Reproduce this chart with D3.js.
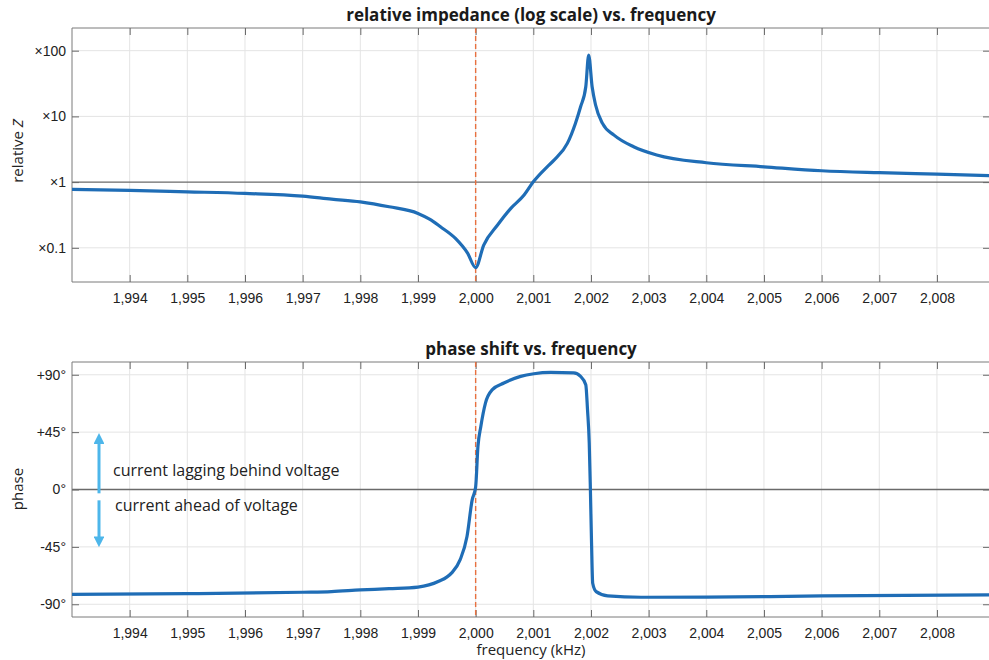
<!DOCTYPE html>
<html>
<head>
<meta charset="utf-8">
<script src="https://cdn.jsdelivr.net/npm/d3@7"></script>
<style>
  body{margin:0;background:#fff;}
  svg{display:block;font-family:"Open Sans",sans-serif;}
  .tick text{font-size:14px;fill:#222;}
</style>
</head>
<body>
<svg id="chart" width="989" height="660"></svg>
<script>
// ---- data ----
const xTicks = [1994,1995,1996,1997,1998,1999,2000,2001,2002,2003,2004,2005,2006,2007,2008];
const zTicks = [0.1,1,10,100];
const zTickLabels = ['×0.1','×1','×10','×100'];
const phTicks = [-90,-45,0,45,90];
const phTickLabels = ['-90°','-45°','0°','+45°','+90°'];

// relative impedance |Z| (log scale)
const zFreq = [1993.0,1994.0,1995.0,1996.0,1997.0,1997.5,1998.0,1998.5,1999.0,1999.2,1999.39,1999.65,1999.86,2000.0,
  2000.14,2000.38,2000.61,2000.84,2001.0,2001.24,2001.36,2001.59,2001.73,2001.82,2001.91,2001.96,
  2002.02,2002.08,2002.2,2002.4,2002.74,2003.14,2004.0,2005.0,2006.0,2007.0,2008.0,2008.95];
const zVal = [0.774,0.748,0.711,0.673,0.612,0.551,0.501,0.421,0.334,0.273,0.209,0.139,0.083,0.050,
  0.110,0.222,0.398,0.634,1.01,1.71,2.16,3.88,7.82,14.0,28.2,85.7,
  28.2,14.9,7.82,5.19,3.45,2.58,1.97,1.71,1.49,1.39,1.32,1.25];

// phase shift in degrees
const phFreq = [1993.0,1995.0,1997.0,1997.5,1998.0,1998.5,1999.0,1999.35,1999.58,1999.73,1999.85,1999.94,2000.0,
  2000.04,2000.09,2000.17,2000.29,2000.49,2000.78,2001.01,2001.3,2001.7,2001.82,2001.91,2001.94,2001.97,
  2001.99,2002.01,2002.03,2002.09,2002.29,2002.87,2004.0,2006.0,2008.95];
const phVal = [-82.2,-81.7,-80.6,-80.1,-78.8,-77.8,-76.5,-72.2,-65.6,-55.2,-36.9,-8.1,2,
  33.8,49.5,67.8,78.3,83.5,88.7,90.8,91.8,91.4,88.7,82.2,62.6,36.4,
  0,-42,-73.5,-80.1,-83.4,-84.5,-84.4,-83.5,-82.7];

const resonance = 2000;

// ---- layout ----
const svg = d3.select('#chart');
const L = 72, R = 990;
const x = d3.scaleLinear().domain([1993, 2008.92]).range([L, R]);
const yZ = d3.scaleLog().domain([Math.pow(10,-1.52), Math.pow(10,2.345)]).range([282, 28]);
const yP = d3.scaleLinear().domain([-100, 100]).range([617, 362]);

const BLUE = '#1f6db6', RED = '#e8703f', GRID = '#e4e4e4', FRAME = '#7a7a7a';

function panel(id, y, yt, ytl, fx, fy, title, ylab, zeroVal, labY){
  const [b, t] = y.range();
  const g = svg.append('g');
  g.append('clipPath').attr('id', id).append('rect').attr('x', L).attr('y', t).attr('width', R-L).attr('height', b-t);
  // grid
  g.append('g').selectAll('line').data(xTicks).join('line')
    .attr('x1', d=>x(d)).attr('x2', d=>x(d)).attr('y1', t).attr('y2', b).attr('stroke', GRID);
  g.append('g').selectAll('line').data(yt).join('line')
    .attr('x1', L).attr('x2', R).attr('y1', d=>y(d)).attr('y2', d=>y(d))
    .attr('stroke', d=>d===zeroVal ? '#6a6a6a' : GRID).attr('stroke-width', d=>d===zeroVal?1.4:1);
  // frame
  g.append('path').attr('d', `M${L},${b}V${t}H${R}`).attr('fill','none').attr('stroke', FRAME);
  g.append('line').attr('x1',L).attr('x2',R).attr('y1',b).attr('y2',b).attr('stroke',FRAME);
  // axes
  const xb = g.append('g').attr('transform', `translate(0,${b})`)
    .call(d3.axisBottom(x).tickValues(xTicks).tickFormat(d3.format(',')).tickSizeInner(-7).tickSizeOuter(0).tickPadding(11));
  const xt = g.append('g').attr('transform', `translate(0,${t})`)
    .call(d3.axisTop(x).tickValues(xTicks).tickFormat('').tickSizeInner(-7).tickSizeOuter(0));
  const yl = g.append('g').attr('transform', `translate(${L},0)`)
    .call(d3.axisLeft(y).tickValues(yt).tickFormat((d,i)=>ytl[i]).tickSizeInner(-7).tickSizeOuter(0).tickPadding(6));
  const yr = g.append('g').attr('transform', `translate(${R},0)`)
    .call(d3.axisRight(y).tickValues(yt).tickFormat('').tickSizeInner(-7).tickSizeOuter(0));
  [xb,xt,yl,yr].forEach(a=>{ a.select('.domain').remove(); a.selectAll('.tick line').attr('stroke', '#6a6a6a'); });
  // resonance marker
  g.append('line').attr('x1', x(resonance)).attr('x2', x(resonance)).attr('y1', t).attr('y2', b)
    .attr('stroke', RED).attr('stroke-width', 1.4).attr('stroke-dasharray', '5,3');
  // curve
  const pts = fx.map((f,i)=>[f, fy[i]]);
  g.append('path').datum(pts).attr('clip-path', `url(#${id})`)
    .attr('d', d3.line().x(d=>x(d[0])).y(d=>y(d[1])).curve(d3.curveMonotoneX))
    .attr('fill','none').attr('stroke', BLUE).attr('stroke-width', 3.2).attr('stroke-linejoin','round');
  // titles
  g.append('text').attr('x', (L+R)/2).attr('y', t-7).attr('text-anchor','middle')
    .style('font-size','17px').style('font-weight','bold').attr('fill','#1a1a1a').text(title);
  g.append('text').attr('transform', `translate(23,${labY}) rotate(-90)`).attr('text-anchor','middle')
    .style('font-size','15px').attr('fill','#222').html(ylab);
  return g;
}

panel('clipZ', yZ, zTicks, zTickLabels, zFreq, zVal, 'relative impedance (log scale) vs. frequency',
  'relative <tspan font-style="italic">Z</tspan>', 1, 151);
panel('clipP', yP, phTicks, phTickLabels, phFreq, phVal, 'phase shift vs. frequency', 'phase', 0, 489);

svg.append('text').attr('x', (L+R)/2).attr('y', 655).attr('text-anchor','middle')
  .style('font-size','15px').attr('fill','#222').text('frequency (kHz)');

// annotation arrows
const ARROW = '#4db6ea';
const defs = svg.append('defs');
defs.append('marker').attr('id','ah').attr('viewBox','0 0 10 10').attr('refX',5).attr('refY',5)
  .attr('markerWidth',3.6).attr('markerHeight',3.6).attr('orient','auto-start-reverse')
  .append('path').attr('d','M0,0L10,5L0,10z').attr('fill', ARROW);
const ax = 99;
svg.append('line').attr('x1',ax).attr('x2',ax).attr('y1',yP(-3)).attr('y2',yP(40))
  .attr('stroke',ARROW).attr('stroke-width',3).attr('marker-end','url(#ah)');
svg.append('line').attr('x1',ax).attr('x2',ax).attr('y1',yP(-8.5)).attr('y2',yP(-41))
  .attr('stroke',ARROW).attr('stroke-width',3).attr('marker-end','url(#ah)');
svg.append('text').attr('x',113).attr('y',yP(10.2)).style('font-size','16px').attr('fill','#222')
  .text('current lagging behind voltage');
svg.append('text').attr('x',115).attr('y',yP(-16.5)).style('font-size','16px').attr('fill','#222')
  .text('current ahead of voltage');
</script>
</body>
</html>
